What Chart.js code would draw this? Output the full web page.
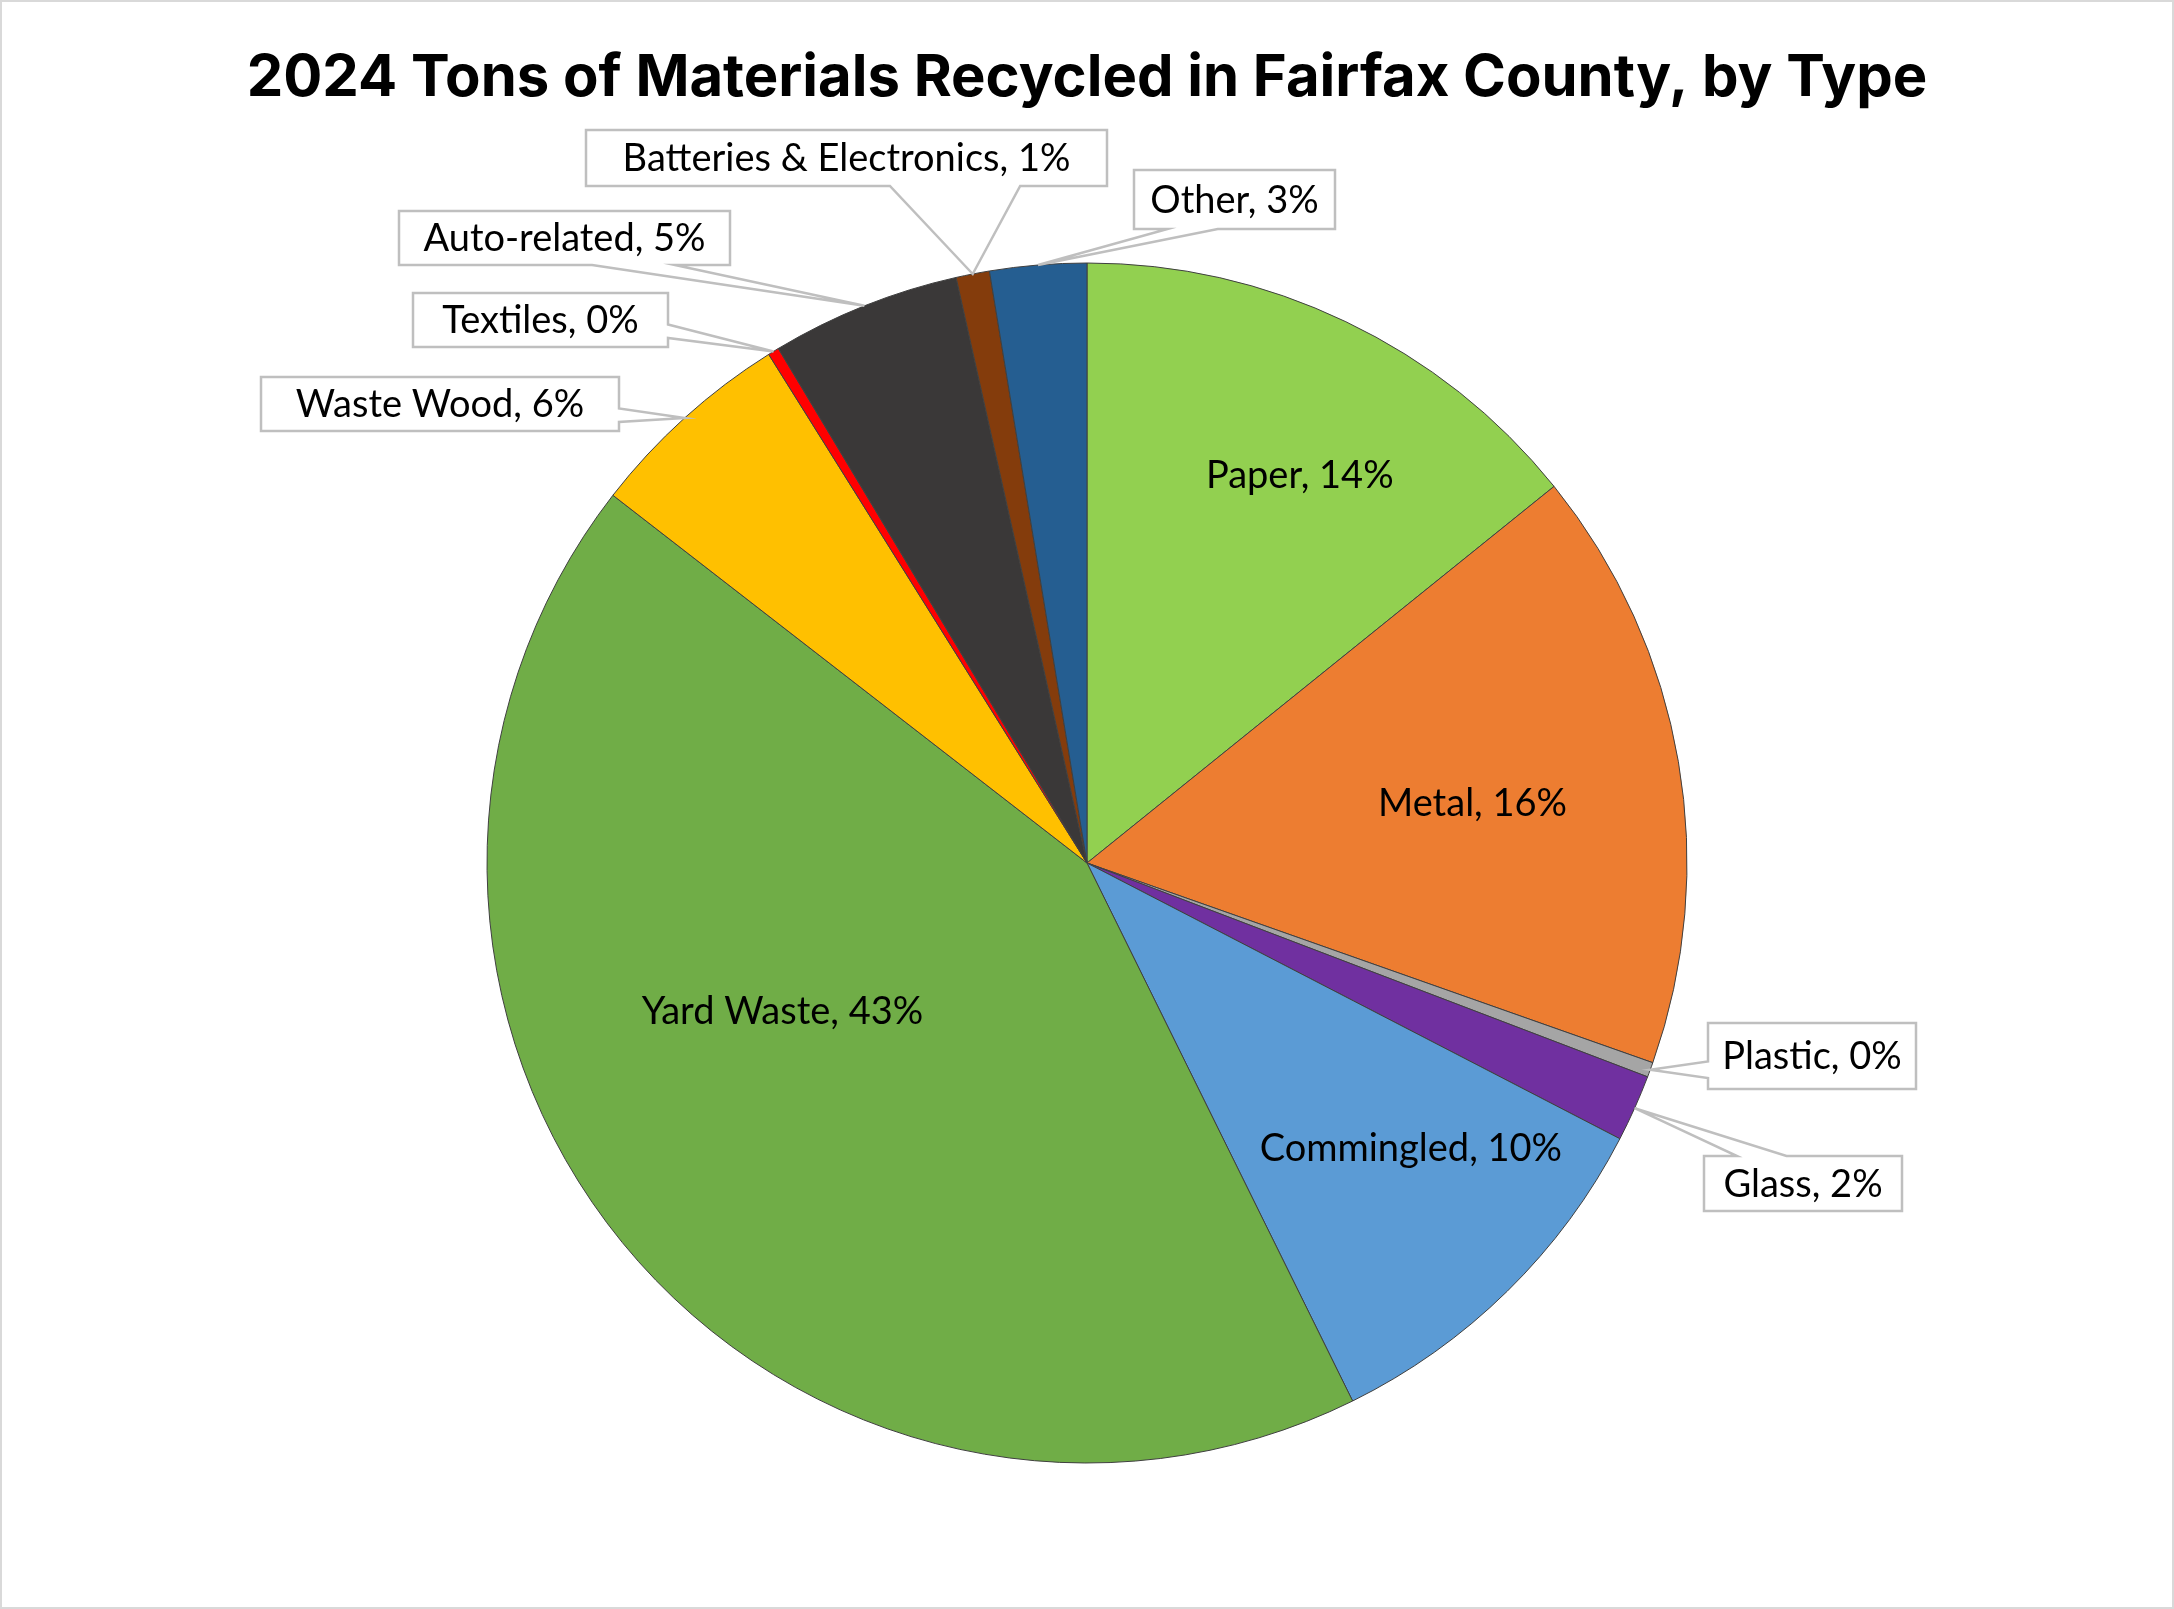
<!DOCTYPE html>
<html>
<head>
<meta charset="utf-8">
<script src="https://cdn.jsdelivr.net/npm/chart.js@4.4.1/dist/chart.umd.min.js"></script>
<style>
  html, body { margin: 0; padding: 0; background: #fff; }
  #wrap { width: 2174px; height: 1609px; position: relative; }
</style>
</head>
<body>
<div id="wrap"><canvas id="pieChart"></canvas></div>
<script>
const categories = ['Paper', 'Metal', 'Plastic', 'Glass', 'Commingled', 'Yard Waste',
                    'Waste Wood', 'Textiles', 'Auto-related', 'Batteries & Electronics', 'Other'];
const shares     = [14.2, 16.2, 0.4, 1.8, 10.1, 42.8, 5.6, 0.3, 5.1, 0.9, 2.6];
const colors     = ['#92D050', '#ED7D31', '#A5A5A5', '#7030A0', '#5B9BD5', '#70AD47',
                    '#FFC000', '#FF0000', '#3A3838', '#843C0C', '#255E91'];

// label placement (layout only)
const insideLabels = {
    'Paper':      { f: 0.737, da: 3.2 },
    'Metal':      { f: 0.65,  da: 1.0 },
    'Commingled': { f: 0.72,  da: -4.1 },
    'Yard Waste': { f: 0.565, da: 13.2 },
};
const calloutBoxes = {               // x, y, w, h on the canvas
    'Plastic':                 [1708, 1023, 208, 66],
    'Glass':                   [1704, 1156, 198, 55],
    'Waste Wood':              [261, 377, 358, 54],
    'Textiles':                [413, 293, 255, 54],
    'Auto-related':            [399, 211, 331, 54],
    'Batteries & Electronics': [586, 130, 521, 56],
    'Other':                   [1134, 170, 201, 59],
};

const LABEL_FONT = '38px Lato';

function pct(i) {
    const total = shares.reduce((a, b) => a + b, 0);
    return Math.round(shares[i] / total * 100);
}

function drawCallout(ctx, box, tx, ty) {
    const [x, y, w, h] = box;
    const cx = x + w / 2, cy = y + h / 2;
    const dxn = (tx - cx) / w, dyn = (ty - cy) / h;
    const side = Math.abs(dxn) > Math.abs(dyn) ? (dxn > 0 ? 'r' : 'l') : (dyn > 0 ? 'b' : 't');
    const y1 = dyn > 0 ? y + h * 7 / 12 : y + h * 2 / 12;
    const y2 = dyn > 0 ? y + h * 10 / 12 : y + h * 5 / 12;
    const x1 = dxn > 0 ? x + w * 7 / 12 : x + w * 2 / 12;
    const x2 = dxn > 0 ? x + w * 10 / 12 : x + w * 5 / 12;

    ctx.beginPath();
    ctx.moveTo(x, y);
    if (side === 't') { ctx.lineTo(x1, y); ctx.lineTo(tx, ty); ctx.lineTo(x2, y); }
    ctx.lineTo(x + w, y);
    if (side === 'r') { ctx.lineTo(x + w, y1); ctx.lineTo(tx, ty); ctx.lineTo(x + w, y2); }
    ctx.lineTo(x + w, y + h);
    if (side === 'b') { ctx.lineTo(x2, y + h); ctx.lineTo(tx, ty); ctx.lineTo(x1, y + h); }
    ctx.lineTo(x, y + h);
    if (side === 'l') { ctx.lineTo(x, y2); ctx.lineTo(tx, ty); ctx.lineTo(x, y1); }
    ctx.closePath();
    ctx.fillStyle = '#FFFFFF';
    ctx.fill();
    ctx.strokeStyle = '#BFBFBF';
    ctx.lineWidth = 2.5;
    ctx.stroke();
}

const frame = {
    id: 'frame',
    beforeDraw(chart) {
        const { ctx, width, height } = chart;
        ctx.save();
        ctx.fillStyle = '#FFFFFF';
        ctx.fillRect(0, 0, width, height);
        ctx.strokeStyle = '#D9D9D9';
        ctx.lineWidth = 2;
        ctx.strokeRect(1, 1, width - 2, height - 2);
        ctx.restore();
    },
};

const sliceLabels = {
    id: 'sliceLabels',
    afterDatasetsDraw(chart) {
        const ctx = chart.ctx;
        const meta = chart.getDatasetMeta(0);
        ctx.save();
        ctx.font = LABEL_FONT;
        ctx.fillStyle = '#000000';
        ctx.textAlign = 'center';
        ctx.textBaseline = 'middle';
        meta.data.forEach((arc, i) => {
            const { x, y, startAngle, endAngle, outerRadius } =
                arc.getProps(['x', 'y', 'startAngle', 'endAngle', 'outerRadius'], true);
            const mid = (startAngle + endAngle) / 2;
            const name = categories[i];
            const text = `${name}, ${pct(i)}%`;
            if (insideLabels[name]) {
                const p = insideLabels[name];
                const a = mid + p.da * Math.PI / 180;
                const r = outerRadius * p.f;
                ctx.fillText(text, x + Math.cos(a) * r, y + Math.sin(a) * r);
            } else if (calloutBoxes[name]) {
                const box = calloutBoxes[name];
                const tx = x + Math.cos(mid) * outerRadius;
                const ty = y + Math.sin(mid) * outerRadius;
                drawCallout(ctx, box, tx, ty);
                ctx.fillStyle = '#000000';
                ctx.fillText(text, box[0] + box[2] / 2, box[1] + box[3] / 2 + 1);
            }
        });
        ctx.restore();
    },
};

new Chart(document.getElementById('pieChart'), {
    type: 'pie',
    data: {
        labels: categories,
        datasets: [{
            data: shares,
            backgroundColor: colors,
            borderColor: '#404040',
            borderWidth: 1,
        }],
    },
    options: {
        responsive: true,
        maintainAspectRatio: false,
        devicePixelRatio: 1,
        animation: false,
        radius: 600,
        layout: { padding: { top: 0, bottom: 146, left: 0, right: 0 } },
        plugins: {
            legend: { display: false },
            tooltip: { enabled: false },
            title: {
                display: true,
                text: '2024 Tons of Materials Recycled in Fairfax County, by Type',
                color: '#000000',
                font: { family: 'Inter', size: 58, weight: 'bold', lineHeight: 1.2 },
                padding: { top: 44, bottom: 149.4 },
            },
        },
    },
    plugins: [frame, sliceLabels],
});
</script>
</body>
</html>
